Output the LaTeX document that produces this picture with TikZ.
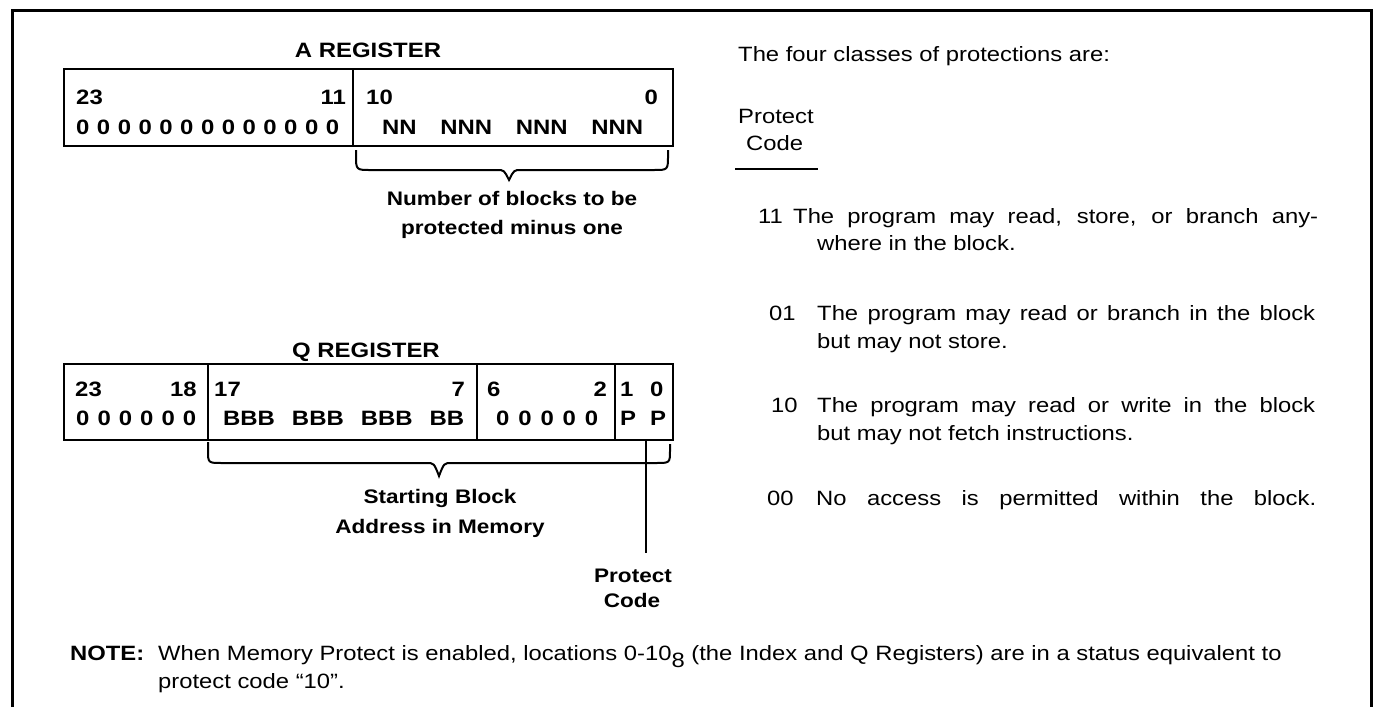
\documentclass[tikz,border=0pt]{standalone}
\usepackage{fontspec}
\setmainfont{Liberation Sans}[FakeStretch=1.15]
\newcommand{\regfont}{\fontsize{20.8}{25}\selectfont}
\newcommand{\labfont}{\fontsize{19.6}{24}\selectfont}
\newcommand{\txtfont}{\fontsize{20.7}{25}\selectfont}
\begin{document}
\begin{tikzpicture}[x=1pt,y=-1pt,
  frame/.style={line width=3pt},
  regbox/.style={draw, line width=2.5pt, inner sep=0pt, minimum width=609pt},
  divider/.style={line width=2.5pt},
  brace/.style={line width=2pt},
  title/.style={inner sep=0pt, font=\regfont\bfseries, anchor=base},
  cell/.style={inner sep=0pt, font=\regfont\bfseries},
  lab/.style={inner sep=0pt, font=\labfont\bfseries, anchor=base},
  txt/.style={inner sep=0pt, font=\txtfont, anchor=base west}]
\useasboundingbox (0,0) rectangle (1375,707);
% outer frame (open at the bottom)
\draw[frame] (12,707) -- (12,10) -- (1371,10) -- (1371,707);

% ---------------- A REGISTER ----------------
\node[title] (Atitle) at (368,57) {A REGISTER};
\node[regbox, minimum height=77pt] (A) at (368.5,107.5) {};
\draw[divider] (353,69) -- (353,146);
\node[cell, anchor=base west] (A23) at (76,104) {23};
\node[cell, anchor=base east] (A11) at (346,104) {11};
\node[cell, anchor=base west] (A10) at (366,104) {10};
\node[cell, anchor=base east] (A0) at (658,104) {0};
\node[cell, anchor=base west] (Azeros) at (76,134)
  {\makebox[263pt][s]{0\hfil0\hfil0\hfil0\hfil0\hfil0\hfil0\hfil0\hfil0\hfil0\hfil0\hfil0\hfil0}};
\node[cell, anchor=base west] (AN) at (382,134)
  {\makebox[261pt][s]{NN\hfil NNN\hfil NNN\hfil NNN}};
\draw[brace] (356,150) -- (356,155) .. controls (356,170) .. (371,170) -- (497,170)
  .. controls (504,170) .. (509,180) .. controls (514,170) .. (521,170) -- (654,170)
  .. controls (668,170) .. (668,155) -- (668,150);
\node[lab] (Anum1) at (512,205) {Number of blocks to be};
\node[lab] (Anum2) at (512,234) {protected minus one};

% ---------------- Q REGISTER ----------------
\node[title] (Qtitle) at (366,357) {Q REGISTER};
\node[regbox, minimum height=76pt] (Q) at (368.5,402) {};
\draw[divider] (208,364) -- (208,440);
\draw[divider] (477,364) -- (477,440);
\draw[divider] (615,364) -- (615,440);
\node[cell, anchor=base west] (Q23) at (75,396) {23};
\node[cell, anchor=base east] (Q18) at (197,396) {18};
\node[cell, anchor=base west] (Q17) at (214,396) {17};
\node[cell, anchor=base east] (Q7) at (465,396) {7};
\node[cell, anchor=base west] (Q6) at (487,396) {6};
\node[cell, anchor=base east] (Q2) at (607,396) {2};
\node[cell, anchor=base west] (Q1) at (620,396) {1};
\node[cell, anchor=base west] (Q0) at (650,396) {0};
\node[cell, anchor=base west] (Qzeros) at (76,425)
  {\makebox[120pt][s]{0\hfil0\hfil0\hfil0\hfil0\hfil0}};
\node[cell, anchor=base west] (QB) at (223,425)
  {\makebox[241pt][s]{BBB\hfil BBB\hfil BBB\hfil BB}};
\node[cell, anchor=base west] (Qzeros2) at (496,425)
  {\makebox[102pt][s]{0\hfil0\hfil0\hfil0\hfil0}};
\node[cell, anchor=base west] (QP1) at (620,425) {P};
\node[cell, anchor=base west] (QP0) at (650,425) {P};
\draw[brace] (208,442) -- (208,450) .. controls (208,463) .. (222,463) -- (426,463)
  .. controls (434,463) .. (439,476) .. controls (444,463) .. (452,463) -- (656,463)
  .. controls (670,463) .. (670,450) -- (670,444);
\node[lab] (Qstart1) at (440,503) {Starting Block};
\node[lab] (Qstart2) at (440,533) {Address in Memory};
\coordinate (pcTop) at (646,441);
\coordinate (pcEnd) at (646,553);
\draw[brace] (pcTop) -- (pcEnd);
\node[lab] (pc1) at (633,582) {Protect};
\node[lab] (pc2) at (632,607) {Code};

% ---------------- right column ----------------
\node[txt] (intro) at (738,61) {The four classes of protections are:};
\node[txt] (hdr1) at (738,123) {Protect};
\node[txt] (hdr2) at (746,150) {Code};
\draw[brace] (735,169) -- (818,169);

\node[txt] (c11) at (758,223) {11};
\node[txt] (t11a) at (793,223) {\makebox[525pt][s]{The program may read, store, or branch any-}};
\node[txt] (t11b) at (817,250) {where in the block.};

\node[txt] (c01) at (769,320) {01};
\node[txt] (t01a) at (817,320) {\makebox[498pt][s]{The program may read or branch in the block}};
\node[txt] (t01b) at (817,348) {but may not store.};

\node[txt] (c10) at (771,412) {10};
\node[txt] (t10a) at (817,412) {\makebox[498pt][s]{The program may read or write in the block}};
\node[txt] (t10b) at (817,440) {but may not fetch instructions.};

\node[txt] (c00) at (767,505) {00};
\node[txt] (t00a) at (816,505) {\makebox[500pt][s]{No access is permitted within the block.}};

% ---------------- note ----------------
\node[inner sep=0pt, font=\txtfont\bfseries, anchor=base west] (note) at (70,660) {NOTE:};
\node[txt] (note1) at (158,660) {When Memory Protect is enabled, locations 0-10\raisebox{-7pt}{8} (the Index and Q Registers) are in a status equivalent to};
\node[txt] (note2) at (158,688) {protect code “10”.};
\end{tikzpicture}
\end{document}
